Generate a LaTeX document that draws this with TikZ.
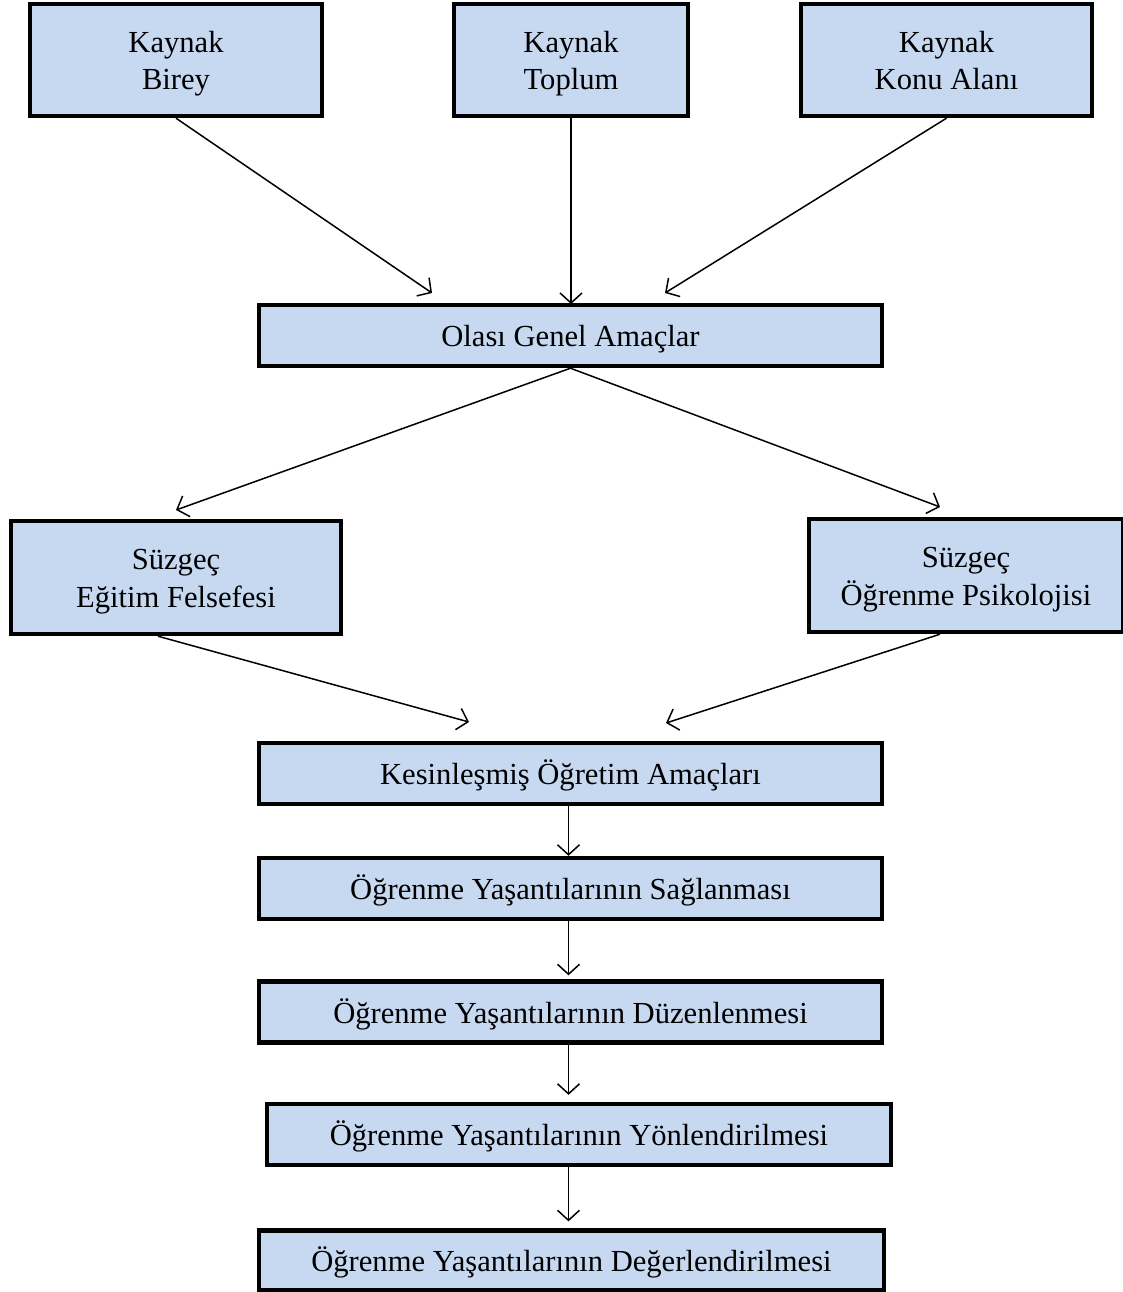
\documentclass[tikz,border=0pt]{standalone}
\usepackage{fontspec}
\setmainfont{Liberation Serif}
\usetikzlibrary{arrows.meta}
\definecolor{boxblue}{HTML}{C6D9F1}
\newcommand\mystrut{\rule[-3.3pt]{0pt}{17.6pt}}
\tikzset{
  bx/.style 2 args={draw=black, line width=2.2pt, fill=boxblue, align=center, inner sep=0pt,
    minimum width=#1*0.5pt, minimum height=#2*0.5pt,
    font=\fontsize{15.3}{17.5}\selectfont},
  arr/.style={draw=black, line width=0.75pt, -{Straight Barb[length=5pt,width=11pt]}}
}
\begin{document}
\begin{tikzpicture}[x=0.5pt,y=-0.5pt]
\useasboundingbox (0,0) rectangle (1123,1292);
% boxes
\node[bx={292}{112}] (birey) at (176,60) {Kaynak\mystrut\\Birey\mystrut};
\node[bx={234}{112}] (toplum) at (571,60) {Kaynak\mystrut\\Toplum\mystrut};
\node[bx={291}{112}] (konu) at (946.5,60) {Kaynak\mystrut\\Konu Alanı\mystrut};
\node[bx={623}{61}] (olasi) at (570.5,335.5) {Olası Genel Amaçlar\mystrut};
\node[bx={330}{113}] (egitim) at (176,577.5) {Süzgeç\mystrut\\Eğitim Felsefesi\mystrut};
\node[bx={314}{113}] (psiko) at (966,575.5) {Süzgeç\mystrut\\Öğrenme Psikolojisi\mystrut};
\node[bx={623}{61}] (kesin) at (570.5,773.5) {Kesinleşmiş Öğretim Amaçları\mystrut};
\node[bx={623}{61}] (saglan) at (570.5,888.5) {Öğrenme Yaşantılarının Sağlanması\mystrut};
\node[bx={623}{61}] (duzen) at (570.5,1012) {Öğrenme Yaşantılarının Düzenlenmesi\mystrut};
\node[bx={624}{61}] (yonlen) at (579,1134.5) {Öğrenme Yaşantılarının Yönlendirilmesi\mystrut};
\node[bx={625}{60}] (deger) at (571.5,1260.5) {Öğrenme Yaşantılarının Değerlendirilmesi\mystrut};
% arrow tips (free ends)
\coordinate (t1) at (432,293);
\coordinate (t2) at (571,304);
\coordinate (t3) at (665,293);
\coordinate (t4) at (176,510);
\coordinate (t5) at (940,507);
\coordinate (t6) at (469,722);
\coordinate (t7) at (666,723);
% connectors
\draw[arr] (birey.south) -- (t1);
\draw[arr] (toplum.south) -- (t2);
\draw[arr] (konu.south) -- (t3);
\draw[arr] (olasi.south) -- (t4);
\draw[arr] (olasi.south) -- (t5);
\draw[arr] ([xshift=-9pt]egitim.south) -- (t6);
\draw[arr] ([xshift=-13pt]psiko.south) -- (t7);
\draw[arr] ([xshift=-1pt]kesin.south) -- ([xshift=-1pt]saglan.north);
\draw[arr,shorten >=2pt] ([xshift=-1pt]saglan.south) -- ([xshift=-1pt]saglan.south |- duzen.north);
\draw[arr,shorten >=3.5pt] ([xshift=-1pt]duzen.south) -- ([xshift=-1pt]duzen.south |- yonlen.north);
\draw[arr,shorten >=3.5pt] ([xshift=-1pt]duzen.south |- yonlen.south) -- ([xshift=-1pt]duzen.south |- deger.north);
\end{tikzpicture}
\end{document}
